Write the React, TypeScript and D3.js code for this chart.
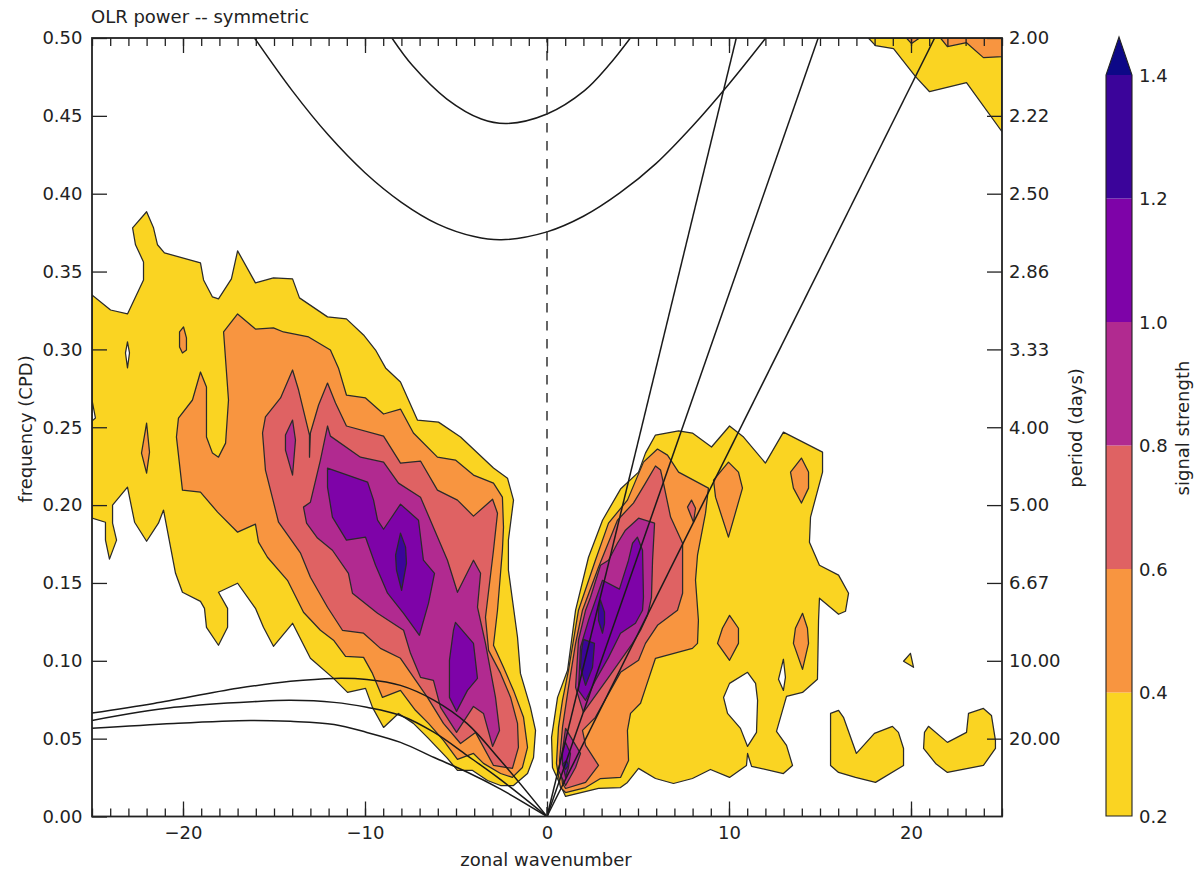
import React, { useEffect, useRef } from "react";
import * as d3 from "d3";

type Pt = [number, number];

const xTicks = [-20, -10, 0, 10, 20];
const xMinorTicks = d3.range(-25, 26);
const freqTicks = [0, 0.05, 0.1, 0.15, 0.2, 0.25, 0.3, 0.35, 0.4, 0.45, 0.5];
const periodTicks = [0.05, 0.1, 0.15, 0.2, 0.25, 0.3, 0.35, 0.4, 0.45, 0.5];
const periodLabels = ["20.00", "10.00", "6.67", "5.00", "4.00", "3.33", "2.86", "2.50", "2.22", "2.00"];
const levels = [0.2, 0.4, 0.6, 0.8, 1.0, 1.2, 1.4];
const bandColors = ["#fad422", "#f89540", "#df6263", "#b12a90", "#7e03a8", "#3b049a"];
const overColor = "#0d0887";

// contour outlines, [wavenumber, frequency]
const yellowWest: Pt[] = [[-25,.335],[-23.98,.3253],[-23.05,.3228],[-22.17,.3446],[-22.17,.3562],[-22.61,.3672],[-22.77,.3781],[-22,.3884],[-21.62,.3781],[-21.4,.3672],[-21.02,.362],[-19.04,.3556],[-18.87,.3446],[-18.38,.3337],[-18.05,.3324],[-17.34,.3453],[-17,.3633],[-16.02,.3427],[-15.03,.3459],[-13.98,.3453],[-13.6,.3331],[-12.06,.3209],[-11.02,.3196],[-10.08,.3093],[-9.42,.2996],[-8.87,.2881],[-8.05,.2791],[-7.12,.2546],[-5.96,.2533],[-4.75,.2437],[-2.94,.2238],[-2.17,.2173],[-1.84,.2032],[-2.12,.1775],[-2.12,.1582],[-1.62,.1151],[-1.46,.0919],[-.91,.0701],[-.63,.0553],[-.74,.0379],[-1.07,.0276],[-1.84,.0199],[-2.55,.0199],[-3.27,.0231],[-4.09,.0296],[-4.92,.0296],[-5.47,.0373],[-6.57,.0508],[-7.34,.0598],[-8.16,.0662],[-8.98,.0572],[-9.59,.0701],[-9.97,.0823],[-10.96,.0797],[-11.73,.0887],[-13,.1016],[-13.98,.1241],[-15.03,.1093],[-15.58,.1215],[-16.02,.1337],[-17,.1498],[-18.05,.144],[-17.55,.1337],[-17.55,.1215],[-18.05,.11],[-18.71,.1215],[-18.82,.1337],[-19.04,.1382],[-20.03,.144],[-20.41,.1562],[-21.07,.1968],[-21.35,.1884],[-22,.1768],[-22.66,.189],[-23.05,.2115],[-23.87,.2],[-23.87,.1884],[-23.65,.1775],[-24.04,.1653],[-24.26,.1775],[-24.26,.189],[-25,.1916]];
const yellowWestHoleA: Pt[] = [[-25,.2675],[-24.81,.2559],[-25,.254]];
const yellowWestHoleB: Pt[] = [[-23.05,.3048],[-22.94,.2977],[-23.05,.2881],[-23.16,.2977]];
const yellowEast: Pt[] = [[1.02,.0129],[2.83,.018],[4.04,.0186],[4.42,.0219],[5.03,.0309],[5.96,.0244],[6.95,.0212],[7.99,.0244],[8.98,.0302],[10.03,.0251],[10.96,.0328],[11.02,.0405],[11.24,.0322],[12.99,.0276],[13.49,.0328],[13.16,.0457],[12.61,.0547],[13.16,.0772],[14.04,.0797],[14.86,.0881],[14.92,.126],[14.97,.1402],[16.02,.1299],[16.4,.1318],[16.57,.1434],[16.02,.155],[14.97,.1614],[14.42,.1762],[14.48,.1923],[15.14,.2212],[15.14,.234],[12.99,.2469],[12,.227],[10.8,.2437],[10.03,.2508],[9.04,.2373],[7.99,.2463],[7.23,.2476],[5.96,.245],[5.41,.2334],[5.03,.2212],[4.04,.2103],[3.05,.1903],[2.28,.1665],[1.57,.1325],[1.13,.0939],[.58,.0765],[.25,.0508],[.3,.0315]];
const yellowEastHoleA: Pt[] = [[11.02,.0926],[11.46,.0855],[11.57,.0746],[11.51,.054],[11.02,.045],[10.63,.0566],[9.92,.0662],[9.7,.0765],[10.03,.0855]];
const yellowEastHoleB: Pt[] = [[12.99,.101],[13.1,.0894],[12.99,.081],[12.72,.0881],[12.88,.0958]];
const yellowDot: Pt[] = [[19.97,.1048],[20.14,.0958],[19.59,.0997]];
const yellowArcA: Pt[] = [[15.58,.0662],[16.02,.0682],[16.29,.0637],[17,.0405],[17.99,.0534],[18.98,.0579],[19.31,.054],[19.59,.0437],[19.59,.0328],[18.05,.0219],[16.95,.0251],[16.02,.0283],[15.58,.0328]];
const yellowArcB: Pt[] = [[20.96,.0579],[22,.0476],[23.05,.054],[23.16,.0662],[23.98,.0694],[24.42,.0649],[24.64,.0489],[24.64,.0437],[23.98,.0328],[22,.0283],[21.35,.0341],[20.69,.0437],[20.74,.054]];
const yellowTop: Pt[] = [[17.66,.5],[18.05,.4951],[19.04,.4932],[20.25,.4752],[21.02,.4655],[23.05,.4713],[25,.4398],[25,.5]];

const orangeWest: Pt[] = [[-17.77,.3112],[-17,.3228],[-16.02,.3131],[-15.03,.3138],[-14.48,.3112],[-13.1,.308],[-11.9,.2996],[-11.46,.2881],[-11.02,.2707],[-9.97,.2688],[-8.98,.2585],[-8.05,.2617],[-7.34,.2463],[-6.02,.2308],[-5.03,.2289],[-4.04,.2193],[-2.94,.2141],[-2.45,.2051],[-2.39,.1858],[-2.45,.171],[-2.72,.1325],[-2.94,.11],[-2.39,.0958],[-1.84,.081],[-1.29,.0637],[-1.07,.0444],[-1.35,.0315],[-1.9,.0251],[-2.55,.0276],[-3.49,.0341],[-4.04,.0405],[-4.92,.0367],[-5.69,.0489],[-6.51,.0598],[-7.23,.0682],[-8.05,.081],[-9.04,.0765],[-9.59,.0919],[-10.08,.1022],[-11.07,.1029],[-11.73,.1132],[-12.45,.1196],[-13.38,.1312],[-14.26,.1517],[-15.36,.1665],[-15.85,.1762],[-16.02,.1878],[-17,.1826],[-18.1,.1955],[-19.04,.2083],[-20.03,.2096],[-20.36,.2437],[-20.25,.2559],[-19.48,.2675],[-19.04,.2855],[-18.71,.2758],[-18.71,.2437],[-18.38,.2334],[-18.05,.2308],[-17.66,.2398],[-17.5,.2675]];
const orangeSpotA: Pt[] = [[-19.97,.3144],[-19.81,.3074],[-19.81,.2996],[-20.03,.2977],[-20.19,.3016],[-20.19,.3112]];
const orangeSpotB: Pt[] = [[-22,.2527],[-21.84,.234],[-22,.2205],[-22.28,.2334]];
const orangeEast: Pt[] = [[6.07,.236],[6.62,.2321],[7.23,.2212],[8.87,.2109],[8.71,.1948],[8.27,.1678],[8.16,.1517],[8.32,.126],[8.27,.1112],[7.99,.108],[5.96,.1016],[5.41,.0823],[5.14,.0727],[4.59,.0662],[4.42,.0553],[4.48,.036],[4.04,.0251],[2.94,.0244],[2.12,.0186],[1.02,.0154],[.74,.0186],[.52,.0341],[.63,.0572],[.85,.0746],[1.18,.0939],[1.73,.1325],[2.66,.1646],[3.38,.1884],[4.42,.2032],[5.3,.2276]];
const orangeSpotC: Pt[] = [[9.97,.2276],[10.52,.2212],[10.74,.2109],[9.97,.1794],[9.26,.2051],[9.15,.216]];
const orangeSpotD: Pt[] = [[13.98,.2302],[14.37,.2212],[14.37,.2109],[13.98,.2013],[13.54,.2109],[13.38,.2212]];
const orangeSpotE: Pt[] = [[10.03,.1292],[10.52,.1209],[10.52,.1112],[10.03,.1003],[9.37,.1112],[9.64,.1209]];
const orangeSpotF: Pt[] = [[14.04,.1305],[14.31,.1209],[14.37,.1112],[14.04,.0945],[13.54,.1112],[13.65,.1209]];
const orangeTopA: Pt[] = [[19.75,.5],[20.03,.4964],[20.47,.5]];
const orangeTopB: Pt[] = [[21.62,.5],[22,.4945],[23.05,.497],[23.98,.4874],[25,.488],[25,.5]];

const pinkWest: Pt[] = [[-13.98,.2868],[-13.65,.2739],[-13.05,.245],[-13.05,.2308],[-13,.2463],[-12.55,.2643],[-12.06,.2784],[-11.62,.2656],[-11.02,.2508],[-8.98,.2443],[-8.05,.227],[-6.95,.2283],[-6.02,.2096],[-4.92,.2032],[-4.04,.1929],[-2.99,.2038],[-2.72,.1948],[-2.94,.171],[-3.38,.128],[-3.21,.1067],[-2.55,.0919],[-2,.0765],[-1.62,.0598],[-1.57,.0444],[-1.9,.0309],[-2.94,.0328],[-3.93,.054],[-4.75,.0469],[-5.69,.0598],[-6.57,.0765],[-8.05,.1016],[-9.15,.108],[-10.08,.1177],[-11.24,.1196],[-12.06,.1344],[-13,.1537],[-13.54,.1691],[-14.75,.189],[-15.47,.2225],[-15.63,.2463],[-15.47,.2566],[-14.64,.2688]];
const pinkEast: Pt[] = [[5.96,.2251],[6.24,.2225],[6.4,.2141],[6.79,.1923],[7.45,.1755],[7.45,.1434],[7.17,.1325],[6.07,.1228],[5.41,.1112],[5.03,.1003],[4.04,.0926],[2.66,.0637],[1.95,.0553],[2.12,.0457],[2.83,.0328],[2.12,.0219],[1.02,.018],[.85,.0212],[.69,.036],[.85,.0572],[1.18,.0829],[1.57,.1112],[1.95,.1325],[2.83,.1601],[3.87,.1903],[4.75,.2013],[5.41,.2141]];
const pinkSpot: Pt[] = [[7.94,.2032],[8.16,.198],[8.05,.189],[7.72,.1987]];

const magentaWest: Pt[] = [[-12.06,.2508],[-11.9,.2443],[-10.25,.2308],[-8.98,.2276],[-8.16,.2141],[-6.95,.2051],[-5.47,.1646],[-4.92,.144],[-4.04,.1646],[-3.65,.1562],[-3.82,.1344],[-3.38,.1112],[-2.83,.0765],[-2.61,.0553],[-2.99,.045],[-3.49,.0662],[-4.04,.0707],[-4.97,.054],[-5.85,.0701],[-6.24,.0874],[-6.95,.0894],[-7.5,.1048],[-7.88,.1196],[-9.31,.1305],[-10.69,.1434],[-10.91,.1562],[-11.79,.171],[-12.61,.1788],[-13.21,.1884],[-13.38,.1987],[-13,.2019],[-12.45,.2289]];
const magentaSpot: Pt[] = [[-13.98,.2546],[-13.82,.2418],[-13.98,.2193],[-14.37,.2353],[-14.37,.245]];
const magentaEast: Pt[] = [[5.03,.1916],[5.91,.1884],[5.8,.1646],[5.74,.1408],[5.52,.1292],[5.14,.1196],[4.7,.1112],[3.38,.0894],[2,.0669],[1.57,.0829],[1.73,.1132],[2.12,.1325],[2.39,.1408],[2.94,.1614],[3.38,.1646],[3.87,.1755],[4.31,.1839]];
const magentaDiamond: Pt[] = [[1.02,.0566],[1.84,.0405],[1.57,.0315],[1.02,.0199],[.63,.0296],[.85,.0424]];

const violetWestA: Pt[] = [[-12.06,.2238],[-9.86,.2148],[-9.53,.2032],[-9.31,.1903],[-8.98,.1845],[-8.05,.2006],[-7.06,.1903],[-6.79,.1646],[-6.18,.1562],[-6.51,.137],[-7.01,.1164],[-7.88,.1305],[-8.76,.1434],[-9.42,.1614],[-9.97,.1794],[-11.02,.1775],[-11.79,.1923],[-12.06,.2115]];
const violetWestB: Pt[] = [[-5.03,.1247],[-4.04,.1112],[-3.82,.0887],[-4.37,.081],[-4.97,.0675],[-5.36,.0765],[-5.36,.1003],[-5.14,.1196]];
const violetEast: Pt[] = [[4.97,.1794],[5.25,.171],[5.3,.1408],[5.25,.1325],[4.86,.1241],[4.04,.1177],[3.38,.1022],[2.66,.0874],[2.12,.0746],[1.73,.081],[1.84,.1087],[2.28,.126],[3.05,.1517],[3.98,.146],[4.48,.1646],[4.7,.1755]];
const violetDiamond: Pt[] = [[1.02,.0476],[1.29,.0405],[1.18,.0315],[1.02,.0251],[.85,.0341],[.85,.0424]];

const indigoWest: Pt[] = [[-8.05,.182],[-7.77,.173],[-7.72,.1627],[-7.99,.1453],[-8.27,.1582],[-8.32,.1678]];
const indigoEastA: Pt[] = [[2,.1138],[2.61,.1112],[2.5,.0958],[2.12,.0842],[1.84,.0958],[1.9,.1067]];
const indigoEastB: Pt[] = [[2.94,.1389],[3.16,.1312],[3.16,.1241],[3.05,.1177],[2.83,.126],[2.83,.1325]];
const indigoDiamond: Pt[] = [[1.07,.036],[1.18,.0328],[1.02,.0302],[.85,.0334]];

// each entry is one compound path; rings inside it cut holes (evenodd)
const bandShapes: Pt[][][][] = [
  [[yellowWest, yellowWestHoleA, yellowWestHoleB], [yellowEast, yellowEastHoleA, yellowEastHoleB], [yellowDot], [yellowArcA], [yellowArcB], [yellowTop]],
  [[orangeWest], [orangeSpotA], [orangeSpotB], [orangeEast], [orangeSpotC], [orangeSpotD], [orangeSpotE], [orangeSpotF], [orangeTopA], [orangeTopB]],
  [[pinkWest], [pinkEast], [pinkSpot]],
  [[magentaWest], [magentaSpot], [magentaEast], [magentaDiamond]],
  [[violetWestA], [violetWestB], [violetEast], [violetDiamond]],
  [[indigoWest], [indigoEastA], [indigoEastB], [indigoDiamond]],
];

// theoretical dispersion curves
const kelvinEnds: Pt[] = [[10.4, 0.5], [14.9, 0.5], [21.3, 0.5]];
const igLower: Pt[] = [[-16.07,.5],[-14,.4662],[-12,.4375],[-10,.4135],[-8,.3945],[-6,.3805],[-4,.3725],[-2.5,.3704],[0,.3755],[2,.3855],[4,.4005],[6,.4195],[8,.4435],[10,.4705],[12.02,.5]];
const igUpper: Pt[] = [[-8.52,.5],[-7.39,.4823],[-5.5,.4608],[-3.61,.448],[-2.19,.4451],[0,.4512],[2.06,.4662],[3.38,.4823],[4.58,.5]];
const erTop: Pt[] = [[-25,.0664],[-21.6,.0726],[-17,.0823],[-14.1,.0868],[-11.7,.0887],[-9.9,.088],[-8.05,.0842],[-6.2,.0746],[-4.4,.0598],[-2.55,.036],[0,0]];
const erMiddle: Pt[] = [[-25,.0617],[-20.5,.0701],[-15.9,.0739],[-14.1,.0746],[-11.7,.0733],[-9.9,.0701],[-8.05,.0649],[-6.2,.054],[-4.4,.0393],[-2.55,.0237],[0,0]];
const erBottom: Pt[] = [[-25,.0566],[-20.5,.0598],[-16.3,.0617],[-14.1,.0611],[-11.7,.0591],[-9.9,.054],[-8.05,.0476],[-6.2,.0379],[-4.4,.0286],[-2.55,.0176],[0,0]];

const plot = { left: 92, right: 1002, top: 38, bottom: 816.5 };
const bar = { left: 1106, right: 1132, top: 75, bottom: 816, tip: 37 };
const font = "'DejaVu Sans', sans-serif";
const fontSize = 18;
const textColor = "#222";

export default function App() {
  const svgRef = useRef<SVGSVGElement>(null);

  useEffect(() => {
    const svg = d3.select(svgRef.current);
    svg.selectAll("*").remove();

    const x = d3.scaleLinear().domain([-25, 25]).range([plot.left, plot.right]);
    const y = d3.scaleLinear().domain([0, 0.5]).range([plot.bottom, plot.top]);
    const w = plot.right - plot.left;
    const h = plot.bottom - plot.top;

    svg.append("clipPath").attr("id", "plot-clip").append("rect")
      .attr("x", plot.left).attr("y", plot.top).attr("width", w).attr("height", h);

    const ring = d3.line<Pt>().x((d) => x(d[0])).y((d) => y(d[1])).curve(d3.curveLinearClosed);
    const curve = d3.line<Pt>().x((d) => x(d[0])).y((d) => y(d[1])).curve(d3.curveCatmullRom.alpha(0.5));

    const g = svg.append("g").attr("clip-path", "url(#plot-clip)");

    // filled contours, lowest level first
    bandShapes.forEach((shapes, i) => {
      g.append("g")
        .selectAll("path")
        .data(shapes)
        .join("path")
        .attr("d", (rings) => rings.map((r) => ring(r)).join(""))
        .attr("fill", bandColors[i])
        .attr("fill-rule", "evenodd")
        .attr("stroke", "#2a2a2a")
        .attr("stroke-width", 1.25)
        .attr("stroke-linejoin", "round");
    });

    // dispersion curves
    const lines = g.append("g").attr("fill", "none").attr("stroke", "#1a1a1a").attr("stroke-width", 1.5);
    [igLower, igUpper, erTop, erMiddle, erBottom].forEach((c) => {
      lines.append("path").attr("d", curve(c));
    });
    kelvinEnds.forEach((e) => {
      lines.append("line")
        .attr("x1", x(0)).attr("y1", y(0)).attr("x2", x(e[0])).attr("y2", y(e[1]));
    });
    lines.append("line")
      .attr("x1", x(0)).attr("x2", x(0)).attr("y1", y(0)).attr("y2", y(0.5))
      .attr("stroke", "#333")
      .attr("stroke-dasharray", "9.5 8.5");

    // axes
    const style = (a: any) => {
      a.select(".domain").remove();
      a.selectAll("line").attr("stroke", "#222").attr("stroke-width", 1.3);
      a.selectAll("text").attr("font-family", font).attr("font-size", fontSize).attr("fill", textColor);
    };
    const bottom = svg.append("g").attr("transform", `translate(0,${plot.bottom})`);
    bottom.call(d3.axisBottom(x).tickValues(xTicks).tickSizeInner(-15).tickSizeOuter(0).tickPadding(10)).call(style);
    const top = svg.append("g").attr("transform", `translate(0,${plot.top})`);
    top.call(d3.axisTop(x).tickValues(xTicks).tickSizeInner(-15).tickSizeOuter(0).tickFormat(() => "")).call(style);
    const minorBottom = svg.append("g").attr("transform", `translate(0,${plot.bottom})`);
    minorBottom.call(d3.axisBottom(x).tickValues(xMinorTicks).tickSizeInner(-8).tickSizeOuter(0).tickFormat(() => "")).call(style);
    const minorTop = svg.append("g").attr("transform", `translate(0,${plot.top})`);
    minorTop.call(d3.axisTop(x).tickValues(xMinorTicks).tickSizeInner(-8).tickSizeOuter(0).tickFormat(() => "")).call(style);
    const left = svg.append("g").attr("transform", `translate(${plot.left},0)`);
    left.call(d3.axisLeft(y).tickValues(freqTicks).tickFormat(d3.format(".2f")).tickSizeInner(-15).tickSizeOuter(0).tickPadding(9.5)).call(style);
    const right = svg.append("g").attr("transform", `translate(${plot.right},0)`);
    right.call(
      d3.axisRight(y).tickValues(periodTicks)
        .tickFormat((_, i) => periodLabels[i])
        .tickSizeInner(-15).tickSizeOuter(0).tickPadding(7)
    ).call(style);

    svg.append("rect")
      .attr("x", plot.left).attr("y", plot.top).attr("width", w).attr("height", h)
      .attr("fill", "none").attr("stroke", "#222").attr("stroke-width", 1.8);

    const text = (label: string, px: number, py: number, anchor: string, rotate = false) => {
      const t = svg.append("text")
        .attr("font-family", font).attr("font-size", fontSize).attr("fill", textColor)
        .attr("text-anchor", anchor).text(label);
      if (rotate) t.attr("transform", `translate(${px},${py}) rotate(-90)`);
      else t.attr("x", px).attr("y", py);
    };
    text("OLR power -- symmetric", 91, 22.5, "start");
    text("zonal wavenumber", 546, 866, "middle");
    text("frequency (CPD)", 31.5, 429, "middle", true);
    text("period (days)", 1081.5, 428, "middle", true);
    text("signal strength", 1188.5, 428, "middle", true);

    // colorbar
    const c = d3.scaleLinear().domain([0.2, 1.4]).range([bar.bottom, bar.top]);
    const cb = svg.append("g");
    cb.selectAll("rect")
      .data(bandColors)
      .join("rect")
      .attr("x", bar.left)
      .attr("width", bar.right - bar.left)
      .attr("y", (_, i) => c(levels[i + 1]))
      .attr("height", (_, i) => c(levels[i]) - c(levels[i + 1]))
      .attr("fill", (d) => d);
    const mid = (bar.left + bar.right) / 2;
    cb.append("path")
      .attr("d", `M${bar.left},${bar.top}L${mid},${bar.tip}L${bar.right},${bar.top}Z`)
      .attr("fill", overColor);
    cb.append("path")
      .attr("d", `M${bar.left},${bar.bottom}L${bar.left},${bar.top}L${mid},${bar.tip}L${bar.right},${bar.top}L${bar.right},${bar.bottom}Z`)
      .attr("fill", "none").attr("stroke", "#222").attr("stroke-width", 1.1);
    cb.selectAll("text")
      .data(levels)
      .join("text")
      .attr("x", bar.right + 7)
      .attr("y", (d) => c(d) + 6.5)
      .attr("font-family", font).attr("font-size", fontSize).attr("fill", textColor)
      .text((d) => d.toFixed(1));
  }, []);

  return (
    <svg
      ref={svgRef}
      width={1200}
      height={869}
      style={{ position: "absolute", left: 0, top: 0, background: "#fff" }}
    />
  );
}
